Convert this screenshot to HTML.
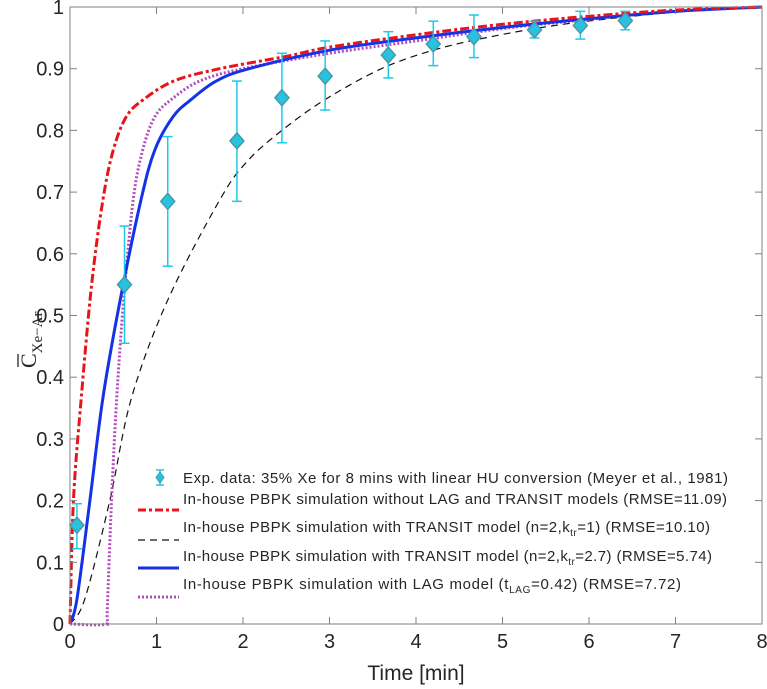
<!DOCTYPE html>
<html><head><meta charset="utf-8"><style>
html,body{margin:0;padding:0;background:#fff;}
svg{display:block;font-family:"Liberation Sans",sans-serif;}
</style></head><body>
<svg id="chart" width="767" height="689" viewBox="0 0 767 689" xmlns="http://www.w3.org/2000/svg">
<g id="series"></g>
<g id="points"></g>
<rect x="70" y="7" width="692" height="617" fill="none" stroke="#808080" stroke-width="1"/>
<g id="ticks"></g>
<text x="416" y="680" font-size="21" text-anchor="middle" fill="#262626">Time [min]</text>
<g transform="translate(36,326) rotate(-90)">
<text x="-42" y="0" font-size="22" text-anchor="start" fill="#262626" font-family="Liberation Serif,serif">C<tspan font-size="15" dy="6">Xe−Ar</tspan></text>
<line x1="-41" y1="-18" x2="-28" y2="-18" stroke="#262626" stroke-width="1.3"/>
</g>
<g id="legend">
<g>
<line x1="160" y1="470" x2="160" y2="485" stroke="#1ccbe8" stroke-width="1.5"/>
<line x1="156" y1="470" x2="164" y2="470" stroke="#1ccbe8" stroke-width="1.5"/>
<line x1="156" y1="485" x2="164" y2="485" stroke="#1ccbe8" stroke-width="1.5"/>
<path d="M160 472 L164 477.5 L160 483 L156 477.5Z" fill="#27c2e0" stroke="#4a9aa8"/>
<text x="183" y="483" font-size="15" fill="#262626" textLength="545">Exp. data: 35% Xe for 8 mins with linear HU conversion (Meyer et al., 1981)</text>
</g>
<g>
<line x1="138" y1="510" x2="179" y2="510" stroke="#e8141c" stroke-width="3" stroke-dasharray="8,3,3,3"/>
<text x="183" y="504" font-size="15" fill="#262626" textLength="544">In-house PBPK simulation without LAG and TRANSIT models (RMSE=11.09)</text>
</g>
<g>
<line x1="138" y1="540" x2="179" y2="540" stroke="#111" stroke-width="1.2" stroke-dasharray="7,5"/>
<text x="183" y="532" font-size="15" fill="#262626" textLength="527">In-house PBPK simulation with TRANSIT model (n=2,k<tspan font-size="10" dy="4">tr</tspan><tspan dy="-4">=1) (RMSE=10.10)</tspan></text>
</g>
<g>
<line x1="138" y1="568" x2="179" y2="568" stroke="#1432e6" stroke-width="3"/>
<text x="183" y="561" font-size="15" fill="#262626" textLength="529">In-house PBPK simulation with TRANSIT model (n=2,k<tspan font-size="10" dy="4">tr</tspan><tspan dy="-4">=2.7) (RMSE=5.74)</tspan></text>
</g>
<g>
<line x1="138" y1="597" x2="179" y2="597" stroke="#b44cc0" stroke-width="3" stroke-dasharray="2,2"/>
<text x="183" y="589" font-size="15" fill="#262626" textLength="498">In-house PBPK simulation with LAG model (t<tspan font-size="10" dy="4">LAG</tspan><tspan dy="-4">=0.42) (RMSE=7.72)</tspan></text>
</g>
</g>
</svg>
<script>
const xTicks=[0,1,2,3,4,5,6,7,8];
const yTicks=[0,0.1,0.2,0.3,0.4,0.5,0.6,0.7,0.8,0.9,1];
const yTickLabels=["0","0.1","0.2","0.3","0.4","0.5","0.6","0.7","0.8","0.9","1"];
const expT=[0.08,0.63,1.13,1.93,2.45,2.95,3.68,4.2,4.67,5.37,5.9,6.42];
const expC=[0.16,0.55,0.685,0.783,0.853,0.888,0.922,0.94,0.952,0.963,0.97,0.978];
const expLo=[0.122,0.455,0.58,0.685,0.78,0.833,0.885,0.905,0.918,0.95,0.948,0.963];
const expHi=[0.195,0.645,0.79,0.88,0.925,0.945,0.96,0.977,0.987,0.977,0.993,0.993];
const redT=[0,0.04,0.13,0.25,0.38,0.5,0.65,0.85,1.2,1.73,2.5,3,4,5,6,7,8];
const redC=[0,0.2,0.366,0.55,0.687,0.768,0.822,0.85,0.88,0.9,0.92,0.935,0.955,0.972,0.985,0.995,1];
const blackT=[0,0.17,0.46,0.71,1.13,1.73,2.05,2.45,2.95,3.6,4.2,4.8,5.6,6.5,7.3,8];
const blackC=[0,0.04,0.2,0.366,0.525,0.687,0.75,0.8,0.85,0.9,0.93,0.95,0.97,0.985,0.995,1];
const blueT=[0,0.08,0.23,0.38,0.58,0.82,0.98,1.19,1.4,1.69,2.07,3,4,5,6,7,8];
const blueC=[0,0.04,0.2,0.366,0.525,0.687,0.768,0.822,0.85,0.88,0.9,0.93,0.95,0.967,0.981,0.993,1];
const purpleT=[0,0.42,0.43,0.48,0.54,0.62,0.73,0.84,0.98,1.17,1.5,2,3,4,5,6,7,8];
const purpleC=[0,0,0.02,0.2,0.366,0.525,0.687,0.768,0.822,0.85,0.88,0.9,0.925,0.945,0.965,0.98,0.993,1];

const X0=70,X1=762,Y0=624,Y1=7;
const sx=t=>X0+(t-0)/(8-0)*(X1-X0);
const sy=c=>Y0-(c-0)/(1-0)*(Y0-Y1);
const NS="http://www.w3.org/2000/svg";
function mk(tag,attrs,parent){const e=document.createElementNS(NS,tag);for(const k in attrs)e.setAttribute(k,attrs[k]);parent.appendChild(e);return e;}
const ticks=document.getElementById('ticks');
xTicks.forEach(t=>{
 const x=sx(t);
 const a=mk('line',{x1:x,y1:Y0,x2:x,y2:Y0-7,stroke:'#808080'},ticks);
 
 
 const b=mk('line',{x1:x,y1:Y1,x2:x,y2:Y1+7,stroke:'#808080'},ticks);
 
 
 const l=mk('text',{x:x,y:Y0+24,'font-size':20,'text-anchor':'middle',fill:'#262626'},ticks);
 l.textContent=String(t);
 
 
});
yTicks.forEach((c,i)=>{
 const y=sy(c);
 const a=mk('line',{x1:X0,y1:y,x2:X0+7,y2:y,stroke:'#808080'},ticks);
 
 
 const b=mk('line',{x1:X1,y1:y,x2:X1-7,y2:y,stroke:'#808080'},ticks);
 
 
 const l=mk('text',{x:X0-6,y:y+7,'font-size':20,'text-anchor':'end',fill:'#262626'},ticks);
 l.textContent=yTickLabels[i];
 
 
});
function curve(T,C){
 const p=T.map((t,i)=>[sx(t),sy(C[i])]);
 let d='M'+p[0][0]+' '+p[0][1];
 for(let i=0;i<p.length-1;i++){
  const p0=p[Math.max(0,i-1)],p1=p[i],p2=p[i+1],p3=p[Math.min(p.length-1,i+2)];
  const c1=[p1[0]+(p2[0]-p0[0])/6,p1[1]+(p2[1]-p0[1])/6];
  const c2=[p2[0]-(p3[0]-p1[0])/6,p2[1]-(p3[1]-p1[1])/6];
  d+=` C${c1[0]} ${c1[1]} ${c2[0]} ${c2[1]} ${p2[0]} ${p2[1]}`;
 }
 return d;
}
const sg=document.getElementById('series');
const s1=mk('path',{d:curve(blackT,blackC),fill:'none',stroke:'#111','stroke-width':1.2,'stroke-dasharray':'7,5'},sg);


const s2=mk('path',{d:curve(purpleT,purpleC),fill:'none',stroke:'#b44cc0','stroke-width':3,'stroke-dasharray':'2,2'},sg);


const s3=mk('path',{d:curve(blueT,blueC),fill:'none',stroke:'#1432e6','stroke-width':3},sg);


const s4=mk('path',{d:curve(redT,redC),fill:'none',stroke:'#e8141c','stroke-width':3,'stroke-dasharray':'9,3,3,3'},sg);


const pg=document.getElementById('points');
expT.forEach((t,i)=>{
 const x=sx(t),y=sy(expC[i]),ylo=sy(expLo[i]),yhi=sy(expHi[i]);
 const g=mk('g',{},pg);
 
 
 mk('line',{x1:x,y1:ylo,x2:x,y2:yhi,stroke:'#1ccbe8','stroke-width':1.5},g);
 mk('line',{x1:x-5,y1:ylo,x2:x+5,y2:ylo,stroke:'#1ccbe8','stroke-width':1.5},g);
 mk('line',{x1:x-5,y1:yhi,x2:x+5,y2:yhi,stroke:'#1ccbe8','stroke-width':1.5},g);
 mk('path',{d:`M${x} ${y-8} L${x+7} ${y} L${x} ${y+8} L${x-7} ${y}Z`,fill:'#27c2e0',stroke:'#4a9aa8','stroke-width':1.5},g);
});
</script>
</body></html>
